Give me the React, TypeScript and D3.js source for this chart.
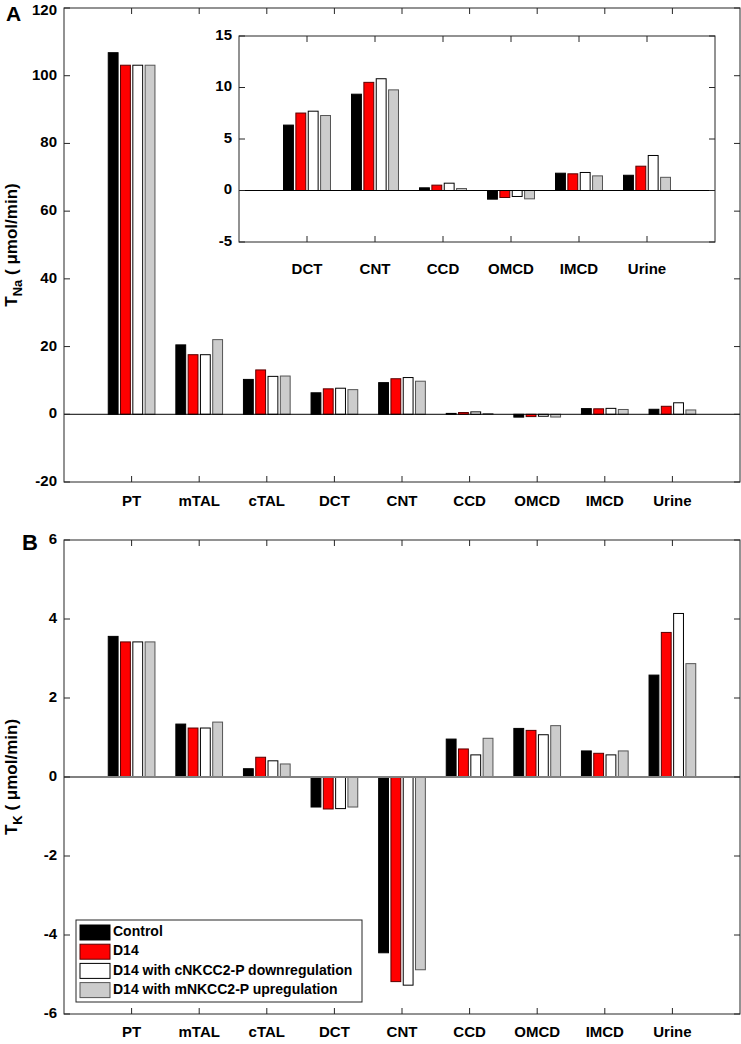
import React from "react";
import * as d3 from "d3";

// segments along the nephron
const segmentsA = ["PT", "mTAL", "cTAL", "DCT", "CNT", "CCD", "OMCD", "IMCD", "Urine"];
const segmentsInset = ["DCT", "CNT", "CCD", "OMCD", "IMCD", "Urine"];
const seriesNames = [
  "Control",
  "D14",
  "D14 with cNKCC2-P downregulation",
  "D14 with mNKCC2-P upregulation",
];
const seriesColors = ["#000000", "#ff0000", "#ffffff", "#cccccc"];
const seriesStroke = ["#000000", "#5a0000", "#000000", "#555555"];

// sodium transport (umol/min), one array per series
const naControl = [106.8, 20.5, 10.3, 6.35, 9.35, 0.26, -0.84, 1.68, 1.48];
const naD14 = [103.1, 17.6, 13.1, 7.52, 10.5, 0.52, -0.68, 1.62, 2.36];
const naCDown = [103.1, 17.6, 11.2, 7.7, 10.85, 0.71, -0.58, 1.75, 3.4];
const naMUp = [103.1, 22.05, 11.3, 7.28, 9.77, 0.19, -0.81, 1.42, 1.28];

// potassium transport (umol/min)
const kControl = [3.56, 1.34, 0.21, -0.76, -4.45, 0.96, 1.23, 0.66, 2.58];
const kD14 = [3.42, 1.24, 0.5, -0.81, -5.18, 0.71, 1.18, 0.6, 3.66];
const kCDown = [3.42, 1.24, 0.41, -0.8, -5.27, 0.56, 1.07, 0.56, 4.14];
const kMUp = [3.42, 1.39, 0.33, -0.76, -4.88, 0.98, 1.3, 0.66, 2.87];

const ticksA = [-20, 0, 20, 40, 60, 80, 100, 120];
const ticksInset = [-5, 0, 5, 10, 15];
const ticksB = [-6, -4, -2, 0, 2, 4, 6];

const font = "'Liberation Sans', Arial, sans-serif";
const axisColor = "#262626";

type PanelProps = {
  x0: number;
  x1: number;
  y0: number;
  y1: number;
  cats: string[];
  series: number[][];
  yDomain: [number, number];
  yTicks: number[];
  zeroColor?: string;
  zeroWidth?: number;
  labelGap?: number;
};

function BarPanel({ x0, x1, y0, y1, cats, series, yDomain, yTicks, zeroColor = "#000", zeroWidth = 1, labelGap = 20 }: PanelProps) {
  const x = d3.scaleLinear().domain([0, cats.length + 1]).range([x0, x1]);
  const y = d3.scaleLinear().domain(yDomain).range([y1, y0]);
  const n = series.length;
  // matlab style grouped bars
  const groupWidth = Math.min(0.8, n / (n + 1.5));
  const step = groupWidth / n;
  const bw = x(step * 0.8) - x(0);
  const tick = 6;
  return (
    <g>
      <rect x={x0} y={y0} width={x1 - x0} height={y1 - y0} fill="#fff" />
      {series.map((vals, j) =>
        vals.map((v, i) => {
          const cx = x(i + 1 + (j - (n - 1) / 2) * step);
          const top = Math.min(y(v), y(0));
          const h = Math.abs(y(v) - y(0));
          return (
            <rect
              key={`${j}-${i}`}
              x={cx - bw / 2}
              y={top}
              width={bw}
              height={h}
              fill={seriesColors[j]}
              stroke={seriesStroke[j]}
              strokeWidth={1}
            />
          );
        })
      )}
      <line x1={x0} x2={x1} y1={y(0)} y2={y(0)} stroke={zeroColor} strokeWidth={zeroWidth} />
      <rect x={x0} y={y0} width={x1 - x0} height={y1 - y0} fill="none" stroke={axisColor} strokeWidth={1} />
      {cats.map((c, i) => (
        <g key={c}>
          <line x1={x(i + 1)} x2={x(i + 1)} y1={y1} y2={y1 - tick} stroke={axisColor} />
          <line x1={x(i + 1)} x2={x(i + 1)} y1={y0} y2={y0 + tick} stroke={axisColor} />
          <text
            x={x(i + 1)}
            y={y1 + labelGap}
            textAnchor="middle"
            dominantBaseline="middle"
            fontFamily={font}
            fontWeight="bold"
            fontSize={15}
            fill="#000"
          >
            {c}
          </text>
        </g>
      ))}
      {yTicks.map((t) => (
        <g key={t}>
          <line x1={x0} x2={x0 + tick} y1={y(t)} y2={y(t)} stroke={axisColor} />
          <line x1={x1} x2={x1 - tick} y1={y(t)} y2={y(t)} stroke={axisColor} />
          <text
            x={x0 - 7}
            y={Math.max(y(t), 11)}
            textAnchor="end"
            dominantBaseline="middle"
            fontFamily={font}
            fontWeight="bold"
            fontSize={15}
            fill="#000"
          >
            {t}
          </text>
        </g>
      ))}
    </g>
  );
}

function YLabel({ x, y, sub }: { x: number; y: number; sub: string }) {
  return (
    <text
      transform={`translate(${x},${y}) rotate(-90)`}
      textAnchor="middle"
      fontFamily={font}
      fontWeight="bold"
      fontSize={17}
      fill="#000"
    >
      T<tspan fontSize={13} dy={5}>{sub}</tspan>
      <tspan dy={-5}> ( μmol/min)</tspan>
    </text>
  );
}

export default function App() {
  const insetSeries = [naControl, naD14, naCDown, naMUp].map((s) => s.slice(3));
  return (
    <svg
      width={741}
      height={1044}
      style={{ position: "absolute", left: 0, top: 0, background: "#fff" }}
    >
      <rect width={741} height={1044} fill="#fff" />
      {/* panel A */}
      <BarPanel
        x0={64}
        x1={740}
        y0={8}
        y1={482}
        cats={segmentsA}
        series={[naControl, naD14, naCDown, naMUp]}
        yDomain={[-20, 120]}
        yTicks={ticksA}
      />
      <BarPanel
        x0={239}
        x1={715}
        y0={36}
        y1={242}
        cats={segmentsInset}
        series={insetSeries}
        yDomain={[-5, 15]}
        yTicks={ticksInset}
        labelGap={28}
      />
      <text x={6} y={21} fontFamily={font} fontWeight="bold" fontSize={21}>A</text>
      <YLabel x={17} y={245} sub="Na" />

      {/* panel B */}
      <BarPanel
        x0={64}
        x1={740}
        y0={540}
        y1={1014}
        cats={segmentsA}
        series={[kControl, kD14, kCDown, kMUp]}
        yDomain={[-6, 6]}
        yTicks={ticksB}
        zeroColor="#808080"
        zeroWidth={2}
        labelGap={19}
      />
      <text x={22} y={550} fontFamily={font} fontWeight="bold" fontSize={22}>B</text>
      <YLabel x={17} y={777} sub="K" />

      {/* legend */}
      <g>
        <rect x={76} y={920} width={286} height={82} fill="#fff" stroke={axisColor} />
        {seriesNames.map((s, j) => (
          <g key={s} transform={`translate(80,${932.5 + j * 19.2})`}>
            <rect x={0} y={-7.5} width={30} height={15} fill={seriesColors[j]} stroke={seriesStroke[j]} />
            <text
              x={33}
              y={0}
              dominantBaseline="middle"
              fontFamily={font}
              fontWeight="bold"
              fontSize={14}
            >
              {s}
            </text>
          </g>
        ))}
      </g>
    </svg>
  );
}
